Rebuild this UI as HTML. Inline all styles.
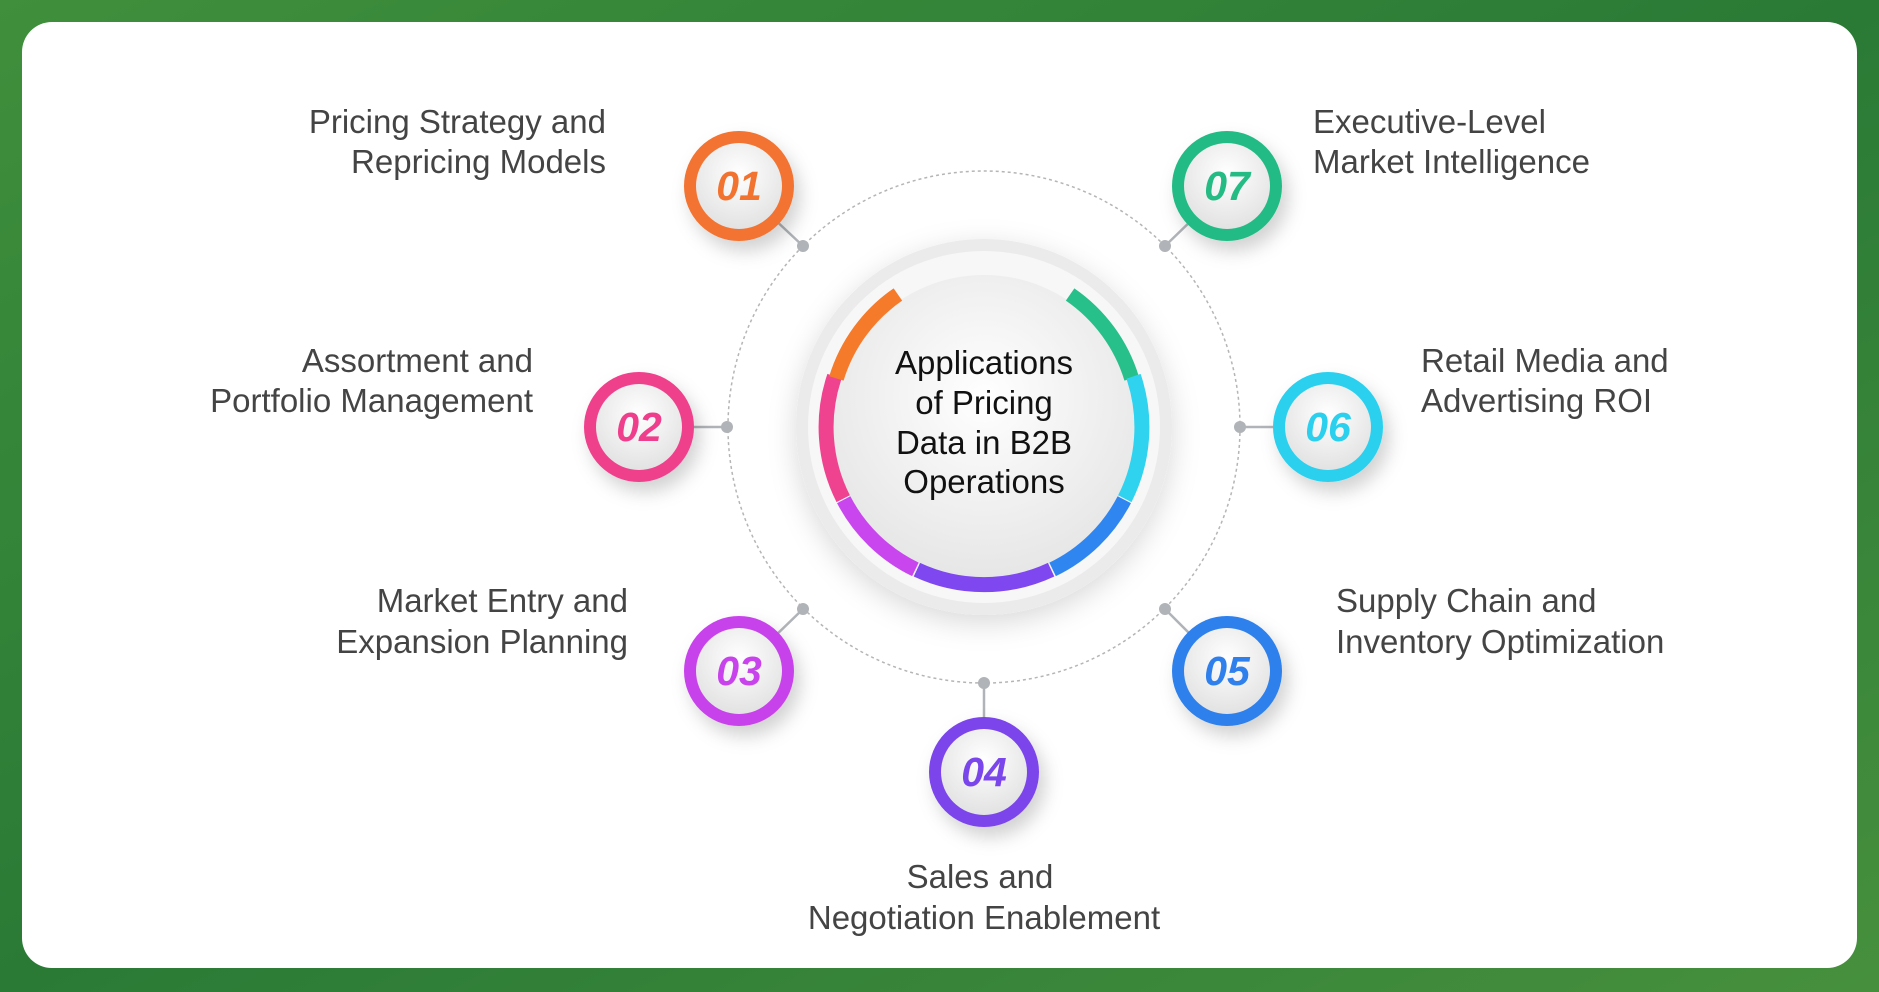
<!DOCTYPE html>
<html><head><meta charset="utf-8"><style>
html,body{margin:0;padding:0;width:1879px;height:992px;overflow:hidden;background:#2f7d3a;}
svg{display:block}
</style></head><body>
<svg width="1879" height="992" viewBox="0 0 1879 992" xmlns="http://www.w3.org/2000/svg" font-family="Liberation Sans, sans-serif">
<defs>
<linearGradient id="bg" x1="0" y1="0" x2="1" y2="1">
<stop offset="0" stop-color="#3f8f3c"/><stop offset="0.5" stop-color="#2a7a36"/><stop offset="1" stop-color="#46903d"/></linearGradient>
<radialGradient id="face" cx="0.5" cy="0.4" r="0.6"><stop offset="0" stop-color="#ffffff"/><stop offset="1" stop-color="#e6e6e6"/></radialGradient>
<radialGradient id="bface" cx="0.5" cy="0.35" r="0.65"><stop offset="0" stop-color="#ffffff"/><stop offset="1" stop-color="#e2e2e2"/></radialGradient>
<filter id="sh" x="-50%" y="-50%" width="200%" height="200%"><feDropShadow dx="6" dy="10" stdDeviation="9" flood-color="#000" flood-opacity="0.18"/></filter>
<filter id="sh2" x="-50%" y="-50%" width="200%" height="200%"><feDropShadow dx="0" dy="8" stdDeviation="14" flood-color="#000" flood-opacity="0.15"/></filter>
</defs>
<rect width="1879" height="992" fill="url(#bg)"/>
<rect x="22" y="22" width="1835" height="946" rx="30" fill="#fff"/>

<circle cx="984" cy="427" r="256" fill="none" stroke="#b5b5b5" stroke-width="1.5" stroke-dasharray="3 3"/>

<g stroke="#b0b3b7" stroke-width="2.5">
<line x1="739" y1="186" x2="803" y2="246"/><line x1="639" y1="427" x2="727" y2="427"/>
<line x1="739" y1="671" x2="803" y2="609"/><line x1="984" y1="772" x2="984" y2="683"/>
<line x1="1227" y1="671" x2="1165" y2="609"/><line x1="1328" y1="427" x2="1240" y2="427"/>
<line x1="1227" y1="186" x2="1165" y2="246"/>
</g>
<g fill="#b0b3b7">
<circle cx="803" cy="246" r="6"/><circle cx="727" cy="427" r="6"/><circle cx="803" cy="609" r="6"/>
<circle cx="984" cy="683" r="6"/><circle cx="1165" cy="609" r="6"/><circle cx="1240" cy="427" r="6"/><circle cx="1165" cy="246" r="6"/>
</g>

<circle cx="984" cy="427" r="188" fill="#ebebeb" filter="url(#sh2)"/>
<circle cx="984" cy="427" r="176" fill="#f7f7f7"/>
<circle cx="984" cy="427" r="152" fill="url(#face)"/>
<g fill="none" stroke-width="15">
<path d="M1070.1,294.5 A158,158 0 0 1 1131.6,378.4" stroke="#27c08a"/>
<path d="M1133.5,376.3 A158,158 0 0 1 1124.8,498.7" stroke="#2fd3ef"/>
<path d="M1124.3,499.7 A158,158 0 0 1 1052.6,569.4" stroke="#2f86f0"/>
<path d="M1051.1,569.7 A158,158 0 0 1 916.9,569.7" stroke="#7e47f0"/>
<path d="M915.4,569.4 A158,158 0 0 1 843.7,499.7" stroke="#c946ef"/>
<path d="M843.2,498.7 A158,158 0 0 1 834.5,376.3" stroke="#f0438f"/>
<path d="M836.4,378.4 A158,158 0 0 1 897.9,294.5" stroke="#f57a2a"/>
</g>
<g font-size="33" fill="#111" text-anchor="middle">
<text x="984" y="374">Applications</text><text x="984" y="414">of Pricing</text>
<text x="984" y="454">Data in B2B</text><text x="984" y="493">Operations</text>
</g>

<g font-size="41" font-weight="bold" font-style="italic" text-anchor="middle">
<g filter="url(#sh)"><circle cx="739" cy="186" r="55" fill="#f27330"/><circle cx="739" cy="186" r="43" fill="url(#bface)"/></g>
<text x="739" y="200" fill="#f27330">01</text>
<g filter="url(#sh)"><circle cx="639" cy="427" r="55" fill="#ef3f8c"/><circle cx="639" cy="427" r="43" fill="url(#bface)"/></g>
<text x="639" y="441" fill="#ef3f8c">02</text>
<g filter="url(#sh)"><circle cx="739" cy="671" r="55" fill="#c843ec"/><circle cx="739" cy="671" r="43" fill="url(#bface)"/></g>
<text x="739" y="685" fill="#c843ec">03</text>
<g filter="url(#sh)"><circle cx="984" cy="772" r="55" fill="#7b45ec"/><circle cx="984" cy="772" r="43" fill="url(#bface)"/></g>
<text x="984" y="786" fill="#7b45ec">04</text>
<g filter="url(#sh)"><circle cx="1227" cy="671" r="55" fill="#2f80ec"/><circle cx="1227" cy="671" r="43" fill="url(#bface)"/></g>
<text x="1227" y="685" fill="#2f80ec">05</text>
<g filter="url(#sh)"><circle cx="1328" cy="427" r="55" fill="#2bd0ee"/><circle cx="1328" cy="427" r="43" fill="url(#bface)"/></g>
<text x="1328" y="441" fill="#2bd0ee">06</text>
<g filter="url(#sh)"><circle cx="1227" cy="186" r="55" fill="#24bb85"/><circle cx="1227" cy="186" r="43" fill="url(#bface)"/></g>
<text x="1227" y="200" fill="#24bb85">07</text>
</g>

<g font-size="33" fill="#444">
<g text-anchor="end">
<text x="606" y="133">Pricing Strategy and</text><text x="606" y="173">Repricing Models</text>
<text x="533" y="372">Assortment and</text><text x="533" y="412">Portfolio Management</text>
<text x="628" y="612">Market Entry and</text><text x="628" y="653">Expansion Planning</text>
</g>
<g text-anchor="middle">
<text x="980" y="888">Sales and</text><text x="984" y="929">Negotiation Enablement</text>
</g>
<g text-anchor="start">
<text x="1336" y="612">Supply Chain and</text><text x="1336" y="653">Inventory Optimization</text>
<text x="1421" y="372">Retail Media and</text><text x="1421" y="412">Advertising ROI</text>
<text x="1313" y="133">Executive-Level</text><text x="1313" y="173">Market Intelligence</text>
</g>
</g>
</svg>
</body></html>
